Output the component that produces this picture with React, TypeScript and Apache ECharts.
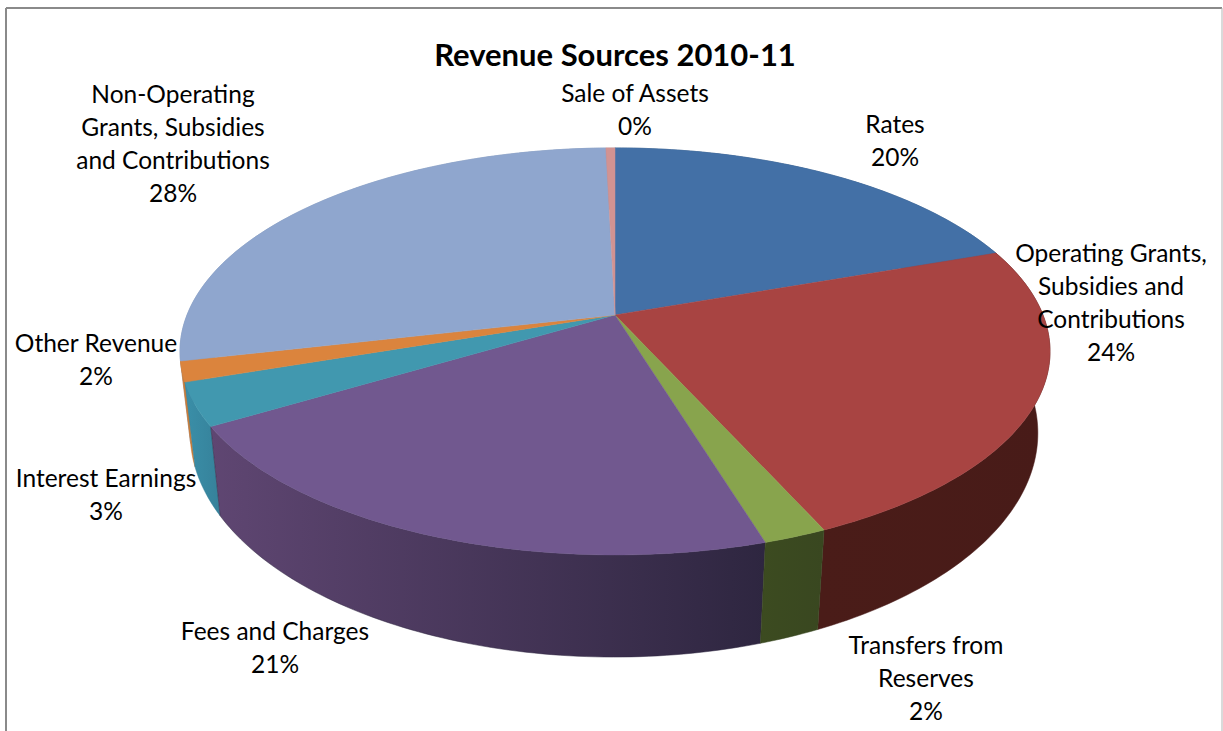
import React, { useEffect, useRef } from "react";
import * as echarts from "echarts";

const TITLE = "Revenue Sources 2010-11";
const categories = ["Rates", "Operating Grants,\nSubsidies and\nContributions", "Transfers from\nReserves", "Fees and Charges", "Interest Earnings", "Other Revenue", "Non-Operating\nGrants, Subsidies\nand Contributions", "Sale of Assets"];
const revenueShare = [19.6, 23.7, 2.0, 21.1, 3.4, 1.6, 28.2, 0.4];

const topColors = ["#4370A6", "#A84442", "#88A44D", "#71588F", "#4198AF", "#DB843D", "#8FA6CE", "#D19392"];
const wallColors: string[][] = [
  ["#33547C", "#33547C"], ["#4A1C18", "#481B18"], ["#3C4B20", "#394720"], ["#5F4672", "#2E2640"],
  ["#3A8FA8", "#36819A"], ["#CC7C36", "#CC7C36"], ["#8094B5", "#8094B5"], ["#A87877", "#A87877"],
];
// centre of each label's text block, in page pixels
const labelPos: number[][] = [[895, 140], [1111, 302], [926, 677], [275, 647], [106, 494], [96, 359], [173, 143], [635, 109]];

// Perspective model of the tilted disc
const P = 0.179;
const TOP = { cx: 615, cy: 315, rx: 428, ry: 197 };
const BOTTOM = { cx: 614, cy: 393, rx: 417, ry: 216.8 };

const total = revenueShare.reduce((a, b) => a + b, 0);
const starts: number[] = [];
revenueShare.reduce((acc, v, i) => { starts[i] = acc; return acc + v; }, 0);
const angleOf = (share: number) => (share / total) * Math.PI * 2;

function project(theta: number, d: typeof TOP): number[] {
  const u = Math.sin(theta), v = -Math.cos(theta), w = 1 - P * v;
  return [d.cx + (d.rx * u) / w, d.cy + (d.ry * v) / w];
}
function arc(a: number, b: number, d: typeof TOP): number[][] {
  const n = Math.max(2, Math.ceil(((b - a) * 180) / Math.PI));
  const out: number[][] = [];
  for (let i = 0; i <= n; i++) out.push(project(a + ((b - a) * i) / n, d));
  return out;
}

const wallOrder = revenueShare
  .map((v, i) => i)
  .sort((i, j) => -Math.cos(angleOf(starts[i] + revenueShare[i] / 2)) + Math.cos(angleOf(starts[j] + revenueShare[j] / 2)));

export default function App() {
  const ref = useRef<HTMLDivElement>(null);
  useEffect(() => {
    document.body.style.margin = "0";
    const chart = echarts.init(ref.current!, undefined, { renderer: "svg" });
    const font = "Lato, Carlito, sans-serif";
    chart.setOption({
      animation: false,
      backgroundColor: "#fff",
      title: {
        text: TITLE, left: 610, top: 33, textAlign: "center",
        textStyle: { fontFamily: font, fontSize: 31, fontWeight: "bold", color: "#000" },
      },
      graphic: [
        { type: "line", shape: { x1: 6, y1: 8, x2: 6, y2: 731 }, style: { stroke: "#8a8a8a", lineWidth: 2 } },
        { type: "line", shape: { x1: 6, y1: 8, x2: 1222, y2: 8 }, style: { stroke: "#8a8a8a", lineWidth: 2 } },
        { type: "line", shape: { x1: 1222, y1: 8, x2: 1222, y2: 731 }, style: { stroke: "#b5b5b5", lineWidth: 1 } },
      ],
      series: [
        {
          type: "custom", coordinateSystem: "none", z: 1, silent: true,
          data: wallOrder.map((i) => [i, revenueShare[i]]),
          renderItem: (_p: any, api: any) => {
            const i = api.value(0);
            const a = angleOf(starts[i]), b = a + angleOf(api.value(1));
            const pts = [...arc(a, b, TOP), ...arc(a, b, BOTTOM).reverse()];
            const fill = new echarts.graphic.LinearGradient(0, 0, 1, 0, [
              { offset: 0, color: wallColors[i][0] }, { offset: 1, color: wallColors[i][1] },
            ]);
            return { type: "polygon", shape: { points: pts }, style: { fill, stroke: wallColors[i][1], lineWidth: 0.5 } };
          },
        },
        {
          type: "custom", coordinateSystem: "none", z: 2, silent: true,
          data: revenueShare.map((v, i) => [i, v]),
          renderItem: (_p: any, api: any) => {
            const i = api.value(0);
            const a = angleOf(starts[i]), b = a + angleOf(api.value(1));
            const pts = [[TOP.cx, TOP.cy], ...arc(a, b, TOP)];
            return { type: "polygon", shape: { points: pts }, style: { fill: topColors[i], stroke: topColors[i], lineWidth: 0.5 } };
          },
        },
        {
          type: "custom", coordinateSystem: "none", z: 3, silent: true,
          data: revenueShare.map((v, i) => [i, v]),
          renderItem: (_p: any, api: any) => {
            const i = api.value(0);
            const pct = Math.round((api.value(1) / total) * 100);
            return {
              type: "text", x: labelPos[i][0], y: labelPos[i][1],
              style: {
                text: `${categories[i]}\n${pct}%`, fontFamily: font, fontSize: 24.5, lineHeight: 33,
                fill: "#000", align: "center", verticalAlign: "middle",
              },
            };
          },
        },
      ],
    });
    return () => chart.dispose();
  }, []);
  return <div ref={ref} style={{ position: "absolute", left: 0, top: 0, width: 1223, height: 731 }} />;
}
